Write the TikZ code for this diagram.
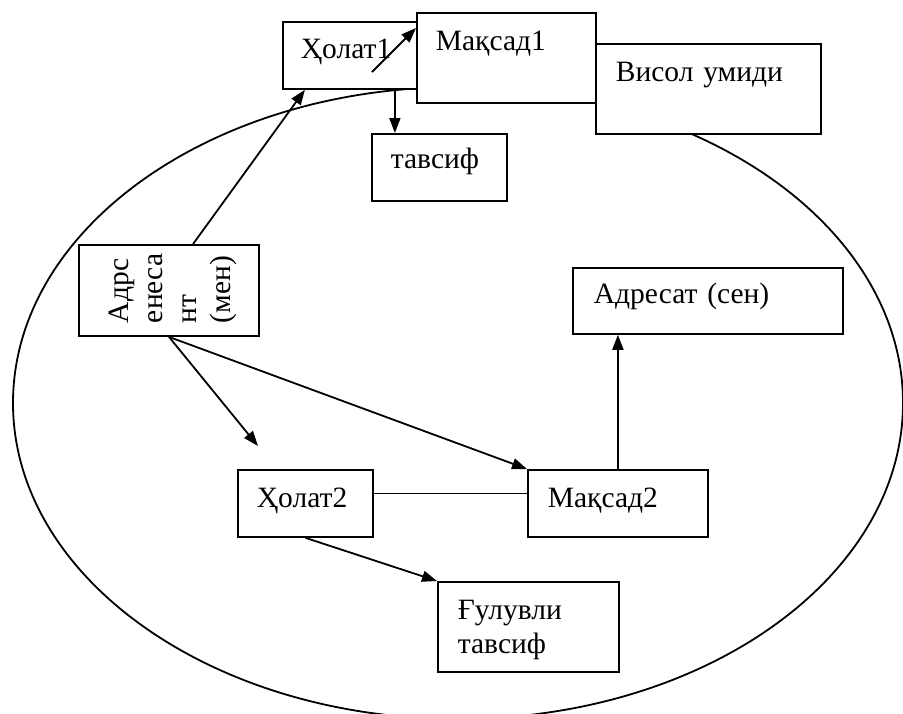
\documentclass[tikz,border=0pt]{standalone}
\usepackage{fontspec}
\setmainfont{Liberation Serif}
\usetikzlibrary{arrows.meta}

\begin{document}
\begin{tikzpicture}[x=1pt,y=-1pt,->,>={Triangle[length=15pt,width=11pt]},line width=1.8pt,font=\fontsize{29.5}{34}\selectfont]
        \tikzstyle{box}=[draw=black,fill=white,anchor=north west,inner ysep=0pt,align=left]
        \useasboundingbox (0,0) rectangle (903,713);
        \draw[-] (458,403) ellipse [x radius=445pt,y radius=316pt];
        \node[box,text width=98pt,inner xsep=18pt,text height=37pt,text depth=30pt] (holat1) at (282,21) {Ҳолат1};
        \node[box,text width=141pt,inner xsep=19pt,text height=38pt,text depth=52pt] (maqsad1) at (416,12) {Мақсад1};
        \node[box,text width=185pt,inner xsep=20pt,text height=38pt,text depth=52pt] (visol) at (595,43) {Висол умиди};
        \node[box,text width=97pt,inner xsep=19pt,text height=35pt,text depth=32pt] (tavsif) at (371,133) {тавсиф};
        \node[box,anchor=center,rotate=90,text width=65pt,inner xsep=13pt,text height=49pt,text depth=131pt] (adresant) at (169,290.5) {Адрс\\енеса\\нт\\(мен)};
        \node[box,text width=228pt,inner xsep=21pt,text height=36pt,text depth=30pt] (adresat) at (572,267) {Адресат (сен)};
        \node[box,text width=97pt,inner xsep=19pt,text height=38pt,text depth=29pt] (holat2) at (237,469) {Ҳолат2};
        \node[box,text width=140pt,inner xsep=20pt,text height=38pt,text depth=29pt] (maqsad2) at (527,469) {Мақсад2};
        \node[box,text width=141pt,inner xsep=20pt,text height=38pt,text depth=52pt] (gulu) at (437,581) {Ғулувли\\тавсиф};
        \coordinate (h1arrow) at (372,72);
        \coordinate (toholat2) at (258,446);
    \path
        ([xshift=24pt]adresant.east) edge ([xshift=-45pt]holat1.south)
        (h1arrow) edge ([yshift=-16pt]maqsad1.north west)
        ([xshift=45pt]holat1.south) edge ([xshift=45pt]holat1.south |- tavsif.north)
        (adresant.west) edge (toholat2) edge (maqsad2.north west)
        ([yshift=10pt]holat2.east) edge [-] ([yshift=10pt]maqsad2.west)
        (maqsad2.north) edge (maqsad2.north |- adresat.south)
        (holat2.south) edge (gulu.north west);
    \end{tikzpicture}
\end{document}
